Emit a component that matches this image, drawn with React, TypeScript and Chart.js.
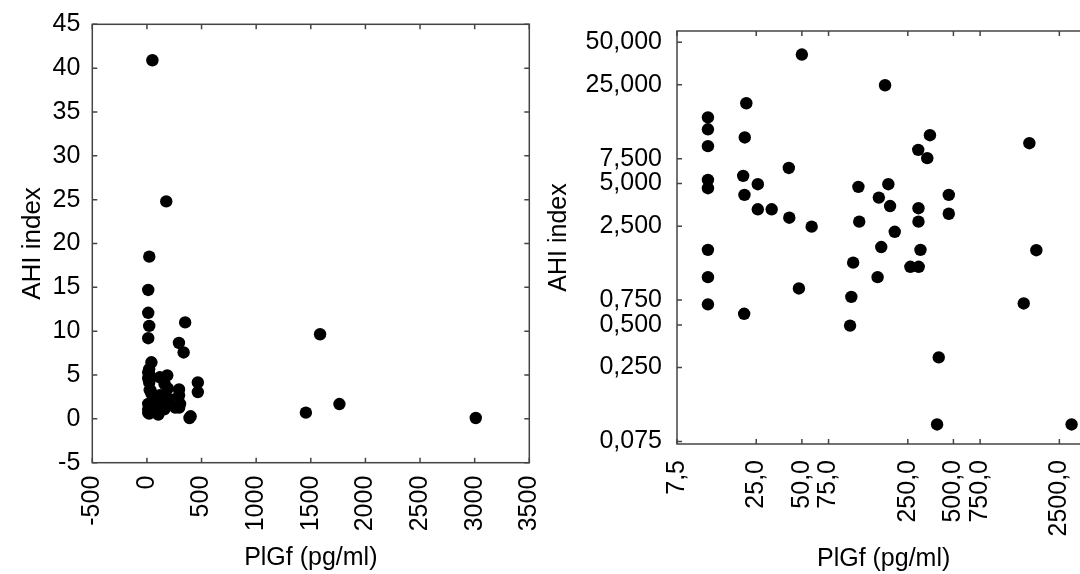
import React, { useEffect, useRef } from "react";
import { Chart, registerables } from "chart.js";

Chart.register(...registerables);

// PlGf (pg/ml) and AHI index of each subject
const plgf = [
  50, 177, 21.5, 12, 12, 12, 21, 350, 1585, 293, 336, 41, 12, 12, 20.5, 25.6,
  20.9, 25.6, 31.6, 41.3, 58, 12, 12, 12, 20.8, 47.8, 106, 104, 158, 400, 390,
  1455, 3010, 118, 119.5, 161, 186, 191, 205, 167, 109, 260, 295, 303, 294,
  294, 466, 466, 1762,
];
const ahi = [
  40.9, 24.8, 18.5, 14.7, 12.1, 9.2, 10.6, 11.0, 9.65, 8.66, 7.57, 6.45, 5.31,
  4.64, 5.67, 4.95, 4.16, 3.29, 3.29, 2.87, 2.48, 1.7, 1.09, 0.7, 0.6, 0.906,
  0.79, 0.495, 1.09, 0.295, 0.099, 0.71, 0.099, 4.74, 2.69, 3.98, 4.95, 3.47,
  2.28, 1.78, 1.38, 1.29, 1.29, 1.7, 3.35, 2.69, 4.16, 3.06, 1.69,
];

// linear panel axes
const linX = { min: -500, max: 3500, step: 500 };
const linY = { min: -5, max: 45, step: 5 };

// log panel axes
const logXTickValues = [7.5, 25, 50, 75, 250, 500, 750, 2500];
const logXTickLabels = ["7,5", "25,0", "50,0", "75,0", "250,0", "500,0", "750,0", "2500,0"];
const logYTickValues = [0.075, 0.25, 0.5, 0.75, 2.5, 5, 7.5, 25, 50];
const logYTickLabels = ["0,075", "0,250", "0,500", "0,750", "2,500", "5,000", "7,500", "25,000", "50,000"];
const logXRange = { min: 7.5, max: 4000 };
const logYRange = { min: 0.072, max: 60 };

const xTitle = "PlGf (pg/ml)";
const yTitle = "AHI index";

const FAMILY = "'Liberation Sans', Arial, Helvetica, sans-serif";
const AXIS_COLOR = "#444";

const framePlugin = {
  id: "frame",
  beforeDatasetsDraw(chart: any) {
    const { ctx, chartArea: a, scales } = chart;
    ctx.save();
    ctx.strokeStyle = AXIS_COLOR;
    ctx.lineWidth = 1.5;
    ctx.strokeRect(a.left, a.top, a.right - a.left, a.bottom - a.top);
    const L = 5;
    ctx.beginPath();
    scales.x.ticks.forEach((t: any) => {
      const p = scales.x.getPixelForValue(t.value);
      ctx.moveTo(p, a.top);
      ctx.lineTo(p, a.top + L);
      ctx.moveTo(p, a.bottom);
      ctx.lineTo(p, a.bottom - L);
    });
    scales.y.ticks.forEach((t: any) => {
      const p = scales.y.getPixelForValue(t.value);
      ctx.moveTo(a.left, p);
      ctx.lineTo(a.left + L, p);
      ctx.moveTo(a.right, p);
      ctx.lineTo(a.right - L, p);
    });
    ctx.stroke();
    ctx.restore();
  },
};

function points() {
  return plgf.map((x, i) => ({ x, y: ahi[i] }));
}

function baseDataset() {
  return {
    data: points(),
    pointRadius: 6.2,
    pointHoverRadius: 6.2,
    pointBackgroundColor: "#000",
    pointBorderWidth: 0,
    showLine: false,
  };
}

function makeLinear(canvas: HTMLCanvasElement) {
  const font = { family: FAMILY, size: 25 };
  return new Chart(canvas, {
    type: "scatter",
    data: { datasets: [baseDataset() as any] },
    plugins: [framePlugin],
    options: {
      responsive: false,
      animation: false,
      events: [],
      layout: { padding: { left: 0, top: 24.3, right: 10.7, bottom: 0 } },
      plugins: { legend: { display: false }, tooltip: { enabled: false } },
      scales: {
        x: {
          type: "linear",
          min: linX.min,
          max: linX.max,
          grid: { display: false, drawTicks: false },
          border: { display: false },
          ticks: {
            stepSize: linX.step,
            minRotation: 90,
            maxRotation: 90,
            autoSkip: false,
            padding: 13,
            color: "#000",
            font,
            callback: (v: any) => String(v),
          },
          title: { display: true, text: xTitle, color: "#000", font, padding: { top: 0, bottom: 1 } },
          afterFit: (s: any) => {
            s.height = 111.3;
            s.paddingLeft = 0;
            s.paddingRight = 0;
          },
        },
        y: {
          type: "linear",
          min: linY.min,
          max: linY.max,
          grid: { display: false, drawTicks: false },
          border: { display: false },
          ticks: {
            stepSize: linY.step,
            autoSkip: false,
            padding: 12,
            color: "#000",
            font,
            callback: (v: any) => String(v),
          },
          title: { display: true, text: yTitle, color: "#000", font: { family: FAMILY, size: 26 }, padding: { top: 17, bottom: 0 } },
          afterFit: (s: any) => {
            s.width = 92.3;
            s.paddingTop = 0;
            s.paddingBottom = 0;
          },
        },
      },
    } as any,
  });
}

function makeLog(canvas: HTMLCanvasElement) {
  const font = { family: FAMILY, size: 25 };
  return new Chart(canvas, {
    type: "scatter",
    data: { datasets: [baseDataset() as any] },
    plugins: [framePlugin],
    options: {
      responsive: false,
      animation: false,
      events: [],
      layout: { padding: { left: 0, top: 31, right: 9.7, bottom: 0 } },
      plugins: { legend: { display: false }, tooltip: { enabled: false } },
      scales: {
        x: {
          type: "logarithmic",
          min: logXRange.min,
          max: logXRange.max,
          grid: { display: false, drawTicks: false },
          border: { display: false },
          afterBuildTicks: (s: any) => {
            s.ticks = logXTickValues.map((value) => ({ value }));
          },
          ticks: {
            minRotation: 90,
            maxRotation: 90,
            autoSkip: false,
            padding: 16,
            color: "#000",
            font,
            callback: (_v: any, i: number) => logXTickLabels[i],
          },
          title: { display: true, text: xTitle, color: "#000", font, padding: { top: 0, bottom: 0 } },
          afterFit: (s: any) => {
            s.height = 130;
            s.paddingLeft = 0;
            s.paddingRight = 0;
          },
        },
        y: {
          type: "logarithmic",
          min: logYRange.min,
          max: logYRange.max,
          grid: { display: false, drawTicks: false },
          border: { display: false },
          afterBuildTicks: (s: any) => {
            s.ticks = logYTickValues.map((value) => ({ value }));
          },
          ticks: {
            autoSkip: false,
            padding: 15,
            color: "#000",
            font,
            callback: (_v: any, i: number) => logYTickLabels[i],
          },
          title: { display: true, text: yTitle, color: "#000", font, padding: { top: 4, bottom: 0 } },
          afterFit: (s: any) => {
            s.width = 137;
            s.paddingTop = 0;
            s.paddingBottom = 0;
          },
        },
      },
    } as any,
  });
}

export default function App() {
  const leftRef = useRef<HTMLCanvasElement>(null);
  const rightRef = useRef<HTMLCanvasElement>(null);

  useEffect(() => {
    const c1 = makeLinear(leftRef.current!);
    const c2 = makeLog(rightRef.current!);
    return () => {
      c1.destroy();
      c2.destroy();
    };
  }, []);

  return (
    <div
      style={{
        position: "fixed",
        left: 0,
        top: 0,
        width: 1080,
        height: 574,
        overflow: "hidden",
        background: "#fff",
      }}
    >
      <canvas
        ref={leftRef}
        width={540}
        height={574}
        style={{ position: "absolute", left: 0, top: 0, width: 540, height: 574 }}
      />
      <canvas
        ref={rightRef}
        width={560}
        height={574}
        style={{ position: "absolute", left: 540, top: 0, width: 560, height: 574 }}
      />
    </div>
  );
}
